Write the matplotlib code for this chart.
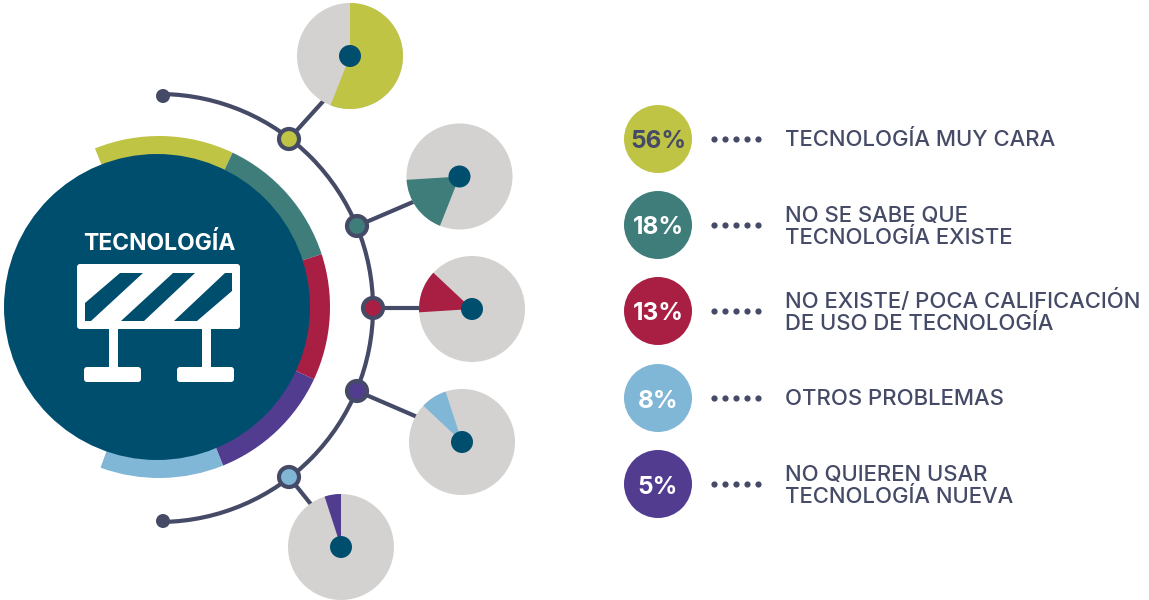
import numpy as np
from matplotlib import pyplot as plt
from matplotlib.patches import Circle, Wedge, Arc, Polygon, FancyBboxPatch, Rectangle

plt.rcParams['font.family'] = ['Inter', 'DejaVu Sans']

# Chart data
values = [56, 18, 13, 8, 5]
pct_labels = ["56%", "18%", "13%", "8%", "5%"]
descriptions = [
    ["TECNOLOGÍA MUY CARA"],
    ["NO SE SABE QUE", "TECNOLOGÍA EXISTE"],
    ["NO EXISTE/ POCA CALIFICACIÓN", "DE USO DE TECNOLOGÍA"],
    ["OTROS PROBLEMAS"],
    ["NO QUIEREN USAR", "TECNOLOGÍA NUEVA"],
]
title = "TECNOLOGÍA"

# Colors
yellow = "#C0C444"
teal = "#3F7D7B"
red = "#A91F43"
blue = "#80B6D6"
purple = "#523C90"
navy = "#004E6E"
dark = "#454A66"
grey = "#D3D2D0"
value_colors = [yellow, teal, red, blue, purple]
pct_colors = [dark, "white", "white", "white", "white"]

fig = plt.figure(figsize=(11.49, 6), dpi=100)
ax = fig.add_axes([0, 0, 1, 1])
ax.set_xlim(0, 1149)
ax.set_ylim(600, 0)   # pixel coordinates, y runs down
ax.axis("off")

# Ring around the big circle
ring_center = (159, 307)
ring_angles = [(-112, -64.5), (-64.5, -18), (-18, 25), (25, 68), (68, 110)]
ring_colors = [yellow, teal, red, purple, blue]
for (a1, a2), col in zip(ring_angles, ring_colors):
    ax.add_patch(Wedge(ring_center, 171, a1, a2, width=30, fc=col, ec="none", zorder=1))
ax.add_patch(Circle((157, 307), 153, fc=navy, ec="none", zorder=2))
ax.text(159.5, 250, title, color="white", fontsize=16.5, fontweight="bold",
        ha="center", va="baseline", zorder=5)

# Road barrier icon
ax.add_patch(FancyBboxPatch((77, 264), 163, 65, boxstyle="round,pad=0,rounding_size=3",
                            fc="white", ec="none", zorder=3))
stripes = [
    [(120, 273), (143, 273), (91, 321), (85, 321), (85, 303)],
    [(173, 273), (195, 273), (144, 321), (121, 321)],
    [(225, 273), (232, 273), (232, 291), (197, 321), (174, 321)],
]
for s in stripes:
    ax.add_patch(Polygon(s, closed=True, fc=navy, ec="none", zorder=4))
for leg_x, foot_x in [(108.5, 84), (201.5, 177)]:
    ax.add_patch(Rectangle((leg_x, 328), 9, 41, fc="white", ec="none", zorder=3))
    ax.add_patch(FancyBboxPatch((foot_x, 367), 57, 15, boxstyle="round,pad=0,rounding_size=3",
                                fc="white", ec="none", zorder=3))

# Outer arc with end dots
ax.add_patch(Arc((159, 308), 428, 428, theta1=-89, theta2=89, ec=dark, lw=3, zorder=1))
for end_y in [96, 521]:
    ax.add_patch(Circle((163, end_y), 7, fc=dark, ec="none", zorder=2))

# Nodes, connectors and cumulative pies
nodes = [(289, 139), (357, 226), (373, 308), (357, 391), (289, 477)]
node_colors = [yellow, teal, red, purple, blue]
link_ends = [(327, 97), (420, 199), (430, 308), (422, 419), (318, 513)]
pie_centers = [(350, 56), (459.5, 176.5), (472, 309), (462, 442), (341, 547)]

for node, col, end in zip(nodes, node_colors, link_ends):
    ax.plot([node[0], end[0]], [node[1], end[1]], color=dark, lw=3,
            solid_capstyle="butt", zorder=1)
    ax.add_patch(Circle(node, 10, fc=col, ec=dark, lw=3, zorder=3))

cum = np.concatenate([[0], np.cumsum(values)]) / sum(values) * 360
for i, center in enumerate(pie_centers):
    ax.add_patch(Circle(center, 53, fc=grey, ec="none", zorder=2))
    ax.add_patch(Wedge(center, 53, -90 + cum[i], -90 + cum[i + 1],
                       fc=value_colors[i], ec="none", zorder=3))
    ax.add_patch(Circle(center, 11, fc=navy, ec="none", zorder=4))

# Legend column
legend_y = [139, 225, 311, 398, 484]
for y, col, pct, pct_col, lines in zip(legend_y, value_colors, pct_labels, pct_colors, descriptions):
    ax.add_patch(Circle((658, y), 34, fc=col, ec="none", zorder=2))
    ax.text(658, y + 9.5, pct, color=pct_col, fontsize=17.5, fontweight="bold",
            ha="center", va="baseline", zorder=3)
    ax.scatter([714, 725, 736, 747, 758], [y] * 5, s=20, color=dark, linewidths=0, zorder=2)
    offsets = [7] if len(lines) == 1 else [-3, 19]
    for off, line in zip(offsets, lines):
        ax.text(785, y + off, line, color=dark, fontsize=15.9, ha="left", va="baseline",
                fontweight="medium", zorder=3)

fig.savefig("out.png", dpi=100)
